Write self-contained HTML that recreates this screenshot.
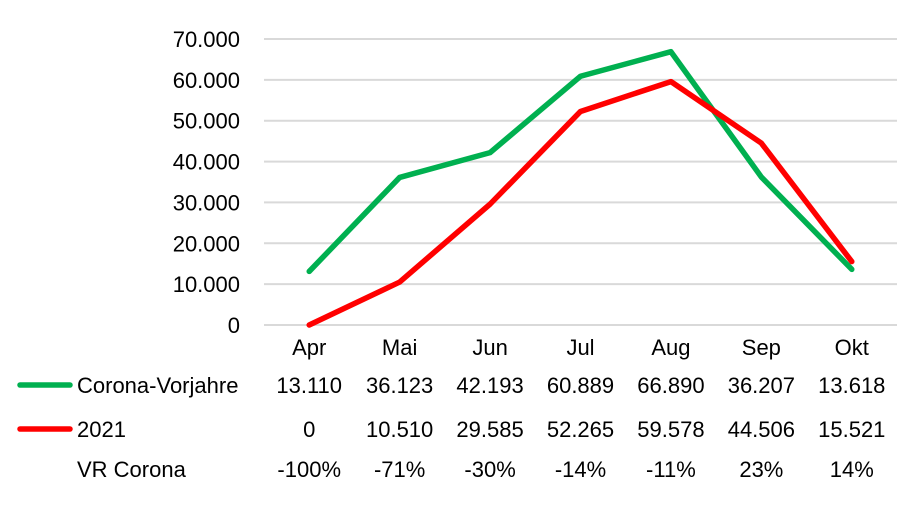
<!DOCTYPE html>
<html><head><meta charset="utf-8"><style>
body{margin:0;background:#fff;width:910px;height:502px;overflow:hidden}
svg text{font-family:"Liberation Sans",sans-serif;font-size:22px;fill:#000}
</style></head><body>
<svg id="chart" width="910" height="502" xmlns="http://www.w3.org/2000/svg"></svg>
<script>
const categories=["Apr","Mai","Jun","Jul","Aug","Sep","Okt"];
const vorjahre=[13110,36123,42193,60889,66890,36207,13618];
const y2021=[0,10510,29585,52265,59578,44506,15521];
const vrCorona=["-100%","-71%","-30%","-14%","-11%","23%","14%"];
const yTicks=[0,10000,20000,30000,40000,50000,60000,70000];
const svg=document.getElementById('chart');
const NS="http://www.w3.org/2000/svg";
const L=264,R=897,T=39,B=325,maxV=70000;
const bw=(R-L)/categories.length;
const x=i=>L+bw*(i+0.5);
const y=v=>B-(v/maxV)*(B-T);
function mk(t,a){const e=document.createElementNS(NS,t);for(const k in a)e.setAttribute(k,a[k]);svg.appendChild(e);return e;}
const fmt=v=>v===0?"0":Math.floor(v/1000)+"."+String(v%1000).padStart(3,"0");
yTicks.forEach(v=>{
 const g=mk('line',{x1:L,x2:R,y1:y(v),y2:y(v),stroke:'#d9d9d9','stroke-width':2});
 
 
 const t=mk('text',{x:240,y:y(v)+8,'text-anchor':'end'});t.textContent=fmt(v);
 
 
});
categories.forEach((c,i)=>{
 const t=mk('text',{x:x(i),y:355,'text-anchor':'middle'});t.textContent=c;
 
 
});
function line(data,color,name){
 const p=mk('polyline',{points:data.map((v,i)=>x(i)+','+y(v)).join(' '),fill:'none',stroke:color,'stroke-width':5.5,'stroke-linejoin':'round','stroke-linecap':'round'});
 
 
}
line(vorjahre,'#00b050','series-corona-vorjahre');
line(y2021,'#ff0000','series-2021');
const rows=[{label:"Corona-Vorjahre",vals:vorjahre.map(fmt),color:'#00b050',cy:385},
 {label:"2021",vals:y2021.map(fmt),color:'#ff0000',cy:429},
 {label:"VR Corona",vals:vrCorona,color:null,cy:469}];
rows.forEach(r=>{
 if(r.color){const k=mk('line',{x1:20,x2:70,y1:r.cy,y2:r.cy,stroke:r.color,'stroke-width':5.5,'stroke-linecap':'round'});
  
  }
 const t=mk('text',{x:77,y:r.cy+8});t.textContent=r.label;
 
 
 r.vals.forEach((v,i)=>{
  const c=mk('text',{x:x(i),y:r.cy+8,'text-anchor':'middle'});c.textContent=v;
  
  
 });
});
</script>
</body></html>
